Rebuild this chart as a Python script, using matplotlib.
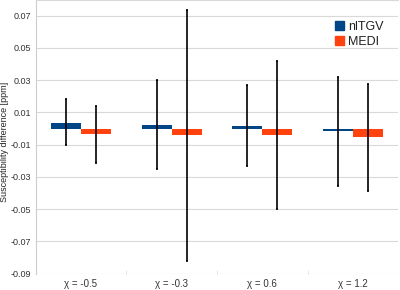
import numpy as np
import matplotlib
matplotlib.use("Agg")
import matplotlib.pyplot as plt
from matplotlib.patches import Patch

plt.rcParams['font.family'] = ['Liberation Sans', 'DejaVu Sans']

# Data
categories = ["χ = -0.5", "χ = -0.3", "χ = 0.6", "χ = 1.2"]
nltgv = [0.0034, 0.0025, 0.0017, -0.0013]
medi = [-0.0035, -0.0041, -0.0039, -0.0052]
nltgv_hi = [0.0183, 0.0302, 0.0270, 0.0322]
nltgv_lo = [-0.0104, -0.0249, -0.0234, -0.0353]
medi_hi = [0.0138, 0.0732, 0.0418, 0.0277]
medi_lo = [-0.0211, -0.0824, -0.0498, -0.0388]

blue = "#004586"
orange = "#ff420e"

x = np.arange(len(categories))
w = 0.33

fig = plt.figure(figsize=(4, 2.9), dpi=100)
ax = fig.add_axes([0.089, 0.056, 0.907, 0.944])

ax.set_axisbelow(True)
ax.grid(axis="y", color="#d9d9d9", linewidth=0.8)

nl = np.array(nltgv)
md = np.array(medi)
ax.bar(x - w / 2, nl, w, color=blue)
ax.bar(x + w / 2, md, w, color=orange)
ax.errorbar(x - w / 2, nl, yerr=[nl - np.array(nltgv_lo), np.array(nltgv_hi) - nl],
            fmt="none", ecolor="black", elinewidth=1.2, capsize=1, capthick=1.2)
ax.errorbar(x + w / 2, md, yerr=[md - np.array(medi_lo), np.array(medi_hi) - md],
            fmt="none", ecolor="black", elinewidth=1.2, capsize=1, capthick=1.2)

ax.set_xlim(-0.5, 3.5)
ax.set_ylim(-0.09, 0.0797)
ax.set_yticks(np.arange(-0.09, 0.08, 0.02))
ax.set_yticklabels([f"{v:.2f}" for v in np.arange(-0.09, 0.08, 0.02)])
ax.set_xticks(x)
ax.set_xticklabels(categories)
ax.set_xticks([0.5, 1.5, 2.5], minor=True)
ax.tick_params(axis="y", which="major", length=0, labelsize=6.5, labelcolor="#333333", pad=3)
ax.tick_params(axis="x", which="major", length=0, labelsize=7, labelcolor="#333333", pad=4)
ax.tick_params(axis="x", which="minor", length=3, color="#e0e0e0", direction="in")

for s in ["right", "bottom"]:
    ax.spines[s].set_visible(False)
ax.spines["left"].set_color("#cccccc")
ax.spines["top"].set_color("#d9d9d9")
ax.spines["top"].set_linewidth(0.8)

ax.set_ylabel("Susceptibility difference [ppm]", fontsize=6.5, color="#222222")
ax.yaxis.set_label_coords(-0.072, 0.48)

handles = [Patch(color=blue, label="nlTGV"), Patch(color=orange, label="MEDI")]
ax.legend(handles=handles, loc="upper left", bbox_to_anchor=(0.795, 0.965), frameon=False,
          fontsize=9, handlelength=0.7, handleheight=0.7, handletextpad=0.3,
          labelspacing=0.25, labelcolor="#222222")

fig.savefig("out.png", dpi=100)
